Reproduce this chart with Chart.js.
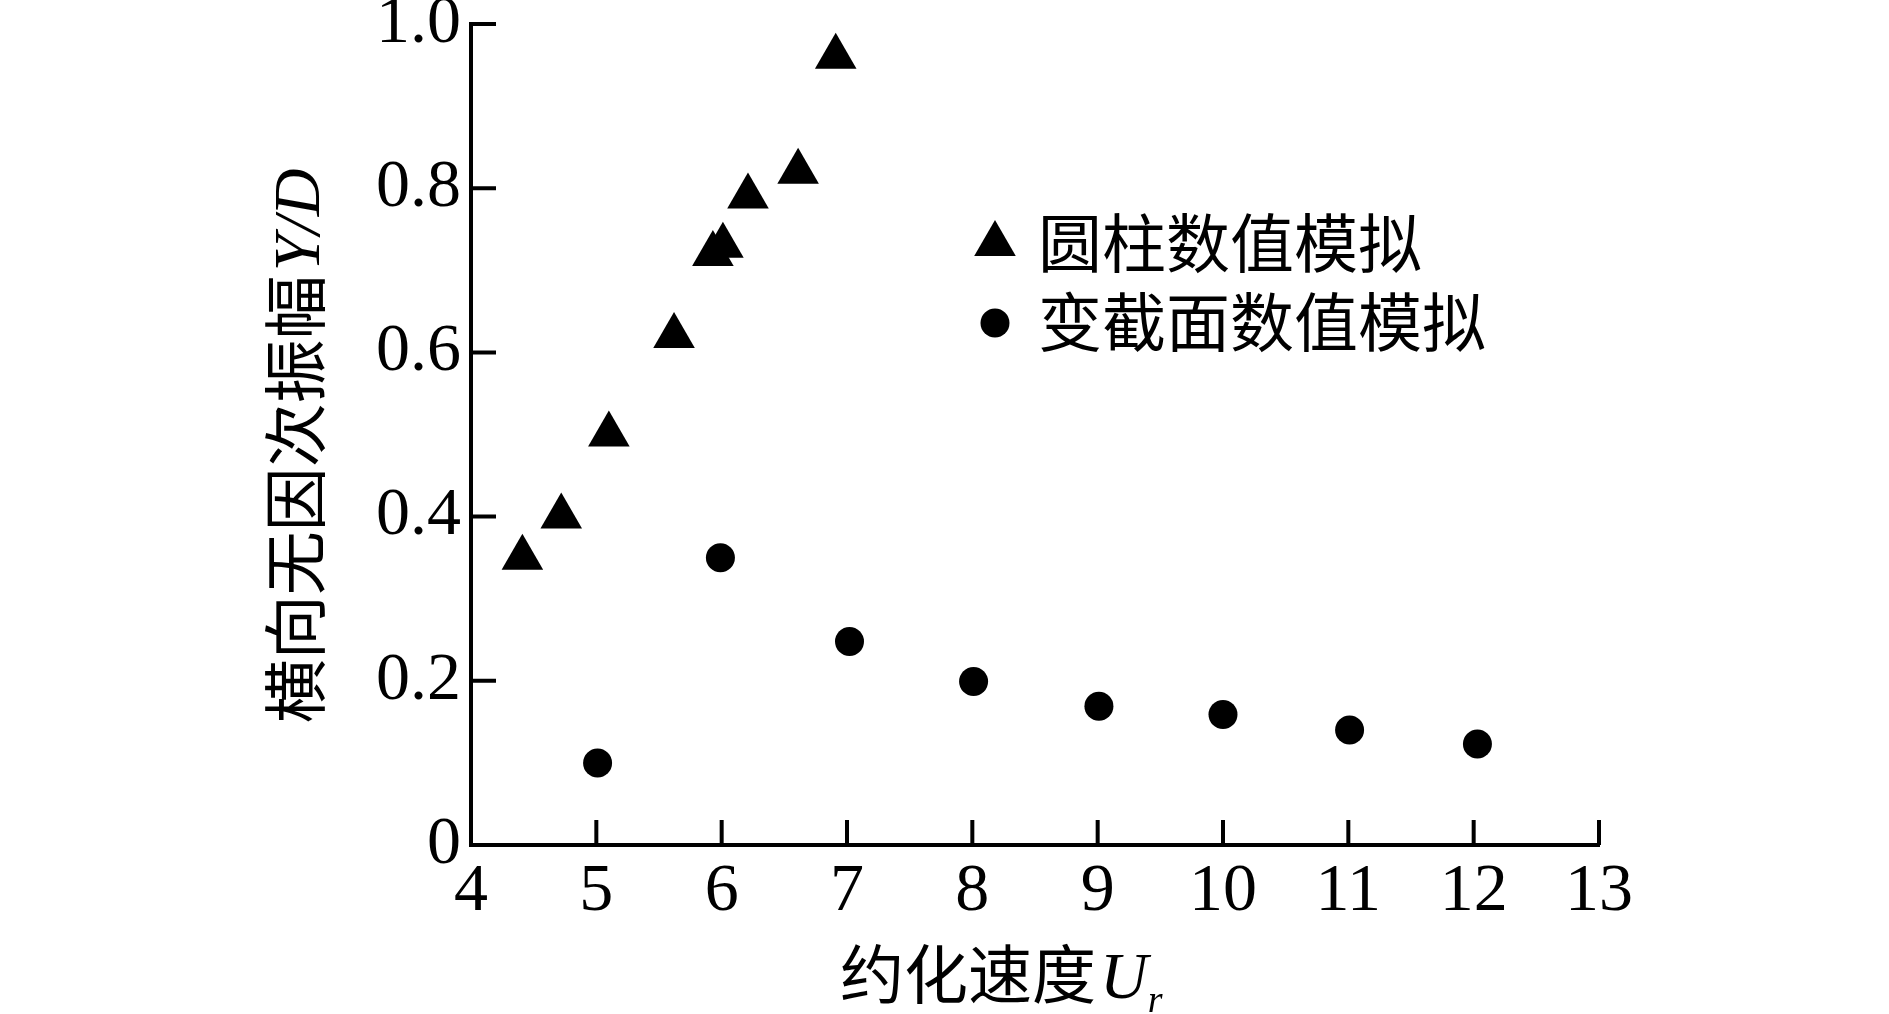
<!DOCTYPE html>
<html>
<head>
<meta charset="utf-8">
<script src="https://cdn.jsdelivr.net/npm/chart.js@4.4.1/dist/chart.umd.min.js"></script>
<style>
  html, body { margin: 0; padding: 0; background: #fff; }
  canvas { display: block; }
</style>
</head>
<body>
<canvas id="chart" width="1889" height="1014"></canvas>
<script>
// series
const cylinderLabel = '圆柱数值模拟';
const cylinderUr = [4.41, 4.72, 5.10, 5.62, 5.93, 6.01, 6.21, 6.61, 6.91];
const cylinderYD = [0.35, 0.40, 0.50, 0.62, 0.72, 0.73, 0.79, 0.82, 0.96];

const variableLabel = '变截面数值模拟';
const variableUr = [5.01, 5.99, 7.02, 8.01, 9.01, 10.0, 11.01, 12.03];
const variableYD = [0.10, 0.35, 0.248, 0.199, 0.169, 0.159, 0.14, 0.123];

const xTitleCJK = '约化速度';
const xTitleVar = 'U';
const xTitleSub = 'r';
const yTitleCJK = '横向无因次振幅';
const yTitleVar = 'Y/D';

const SERIF = '"Liberation Serif", "Times New Roman", serif';
const CJK = '"Noto Sans CJK SC", sans-serif';

const toPoints = (xs, ys) => xs.map((x, i) => ({ x, y: ys[i] }));

// inward tick marks on both axes
const innerTicks = {
    id: 'innerTicks',
    afterDraw(chart) {
        const { ctx, chartArea, scales } = chart;
        const len = 25;
        ctx.save();
        ctx.strokeStyle = '#000';
        ctx.lineWidth = 4;
        ctx.beginPath();
        scales.x.ticks.forEach(t => {
            const px = scales.x.getPixelForValue(t.value);
            if (Math.abs(px - chartArea.left) < 2) return;
            ctx.moveTo(px, chartArea.bottom);
            ctx.lineTo(px, chartArea.bottom - len);
        });
        scales.y.ticks.forEach(t => {
            const py = scales.y.getPixelForValue(t.value);
            if (Math.abs(py - chartArea.bottom) < 2) return;
            ctx.moveTo(chartArea.left, py);
            ctx.lineTo(chartArea.left + len, py);
        });
        ctx.stroke();
        ctx.restore();
    }
};

// axis titles with italic symbol + subscript
const axisTitles = {
    id: 'axisTitles',
    afterDraw(chart) {
        const { ctx } = chart;
        ctx.save();
        ctx.fillStyle = '#000';
        ctx.textBaseline = 'alphabetic';
        ctx.textAlign = 'left';

        // x title
        let x = 840;
        const base = 998;
        ctx.font = '64px ' + CJK;
        ctx.fillText(xTitleCJK, x, base);
        x += ctx.measureText(xTitleCJK).width + 4;
        ctx.font = 'italic 66px ' + SERIF;
        ctx.fillText(xTitleVar, x, base);
        x += ctx.measureText(xTitleVar).width;
        ctx.font = 'italic 38px ' + SERIF;
        ctx.fillText(xTitleSub, x, base + 14);

        // y title, rotated
        ctx.font = '64px ' + CJK;
        const w1 = ctx.measureText(yTitleCJK).width;
        ctx.font = 'italic 66px ' + SERIF;
        const w2 = ctx.measureText(yTitleVar).width;
        const total = w1 + 4 + w2;
        ctx.translate(295, 446);
        ctx.rotate(-Math.PI / 2);
        let lx = -total / 2;
        const lb = 24;
        ctx.font = '64px ' + CJK;
        ctx.fillText(yTitleCJK, lx, lb);
        lx += w1 + 4;
        ctx.font = 'italic 66px ' + SERIF;
        ctx.fillText(yTitleVar, lx, lb);
        ctx.restore();
    }
};

// legend placed inside the plot, as in the figure
const insideLegend = {
    id: 'insideLegend',
    afterDraw(chart) {
        const { ctx } = chart;
        const rows = [
            { ds: 0, my: 244, ty: 243 },
            { ds: 1, my: 323, ty: 322 }
        ];
        ctx.save();
        rows.forEach(r => {
            const ds = chart.data.datasets[r.ds];
            ctx.fillStyle = '#000';
            ctx.strokeStyle = '#000';
            ctx.lineWidth = 0;
            Chart.helpers.drawPoint(ctx, {
                pointStyle: ds.pointStyle,
                radius: ds.pointRadius,
                rotation: 0,
                borderWidth: 0
            }, 995, r.my);
            ctx.fillStyle = '#000';
            ctx.font = '64px ' + CJK;
            ctx.textBaseline = 'middle';
            ctx.textAlign = 'left';
            ctx.fillText(ds.label, 1038, r.ty);
        });
        ctx.restore();
    }
};

const tickFont = { family: SERIF, size: 68, lineHeight: 1.2 };

new Chart(document.getElementById('chart').getContext('2d'), {
    type: 'scatter',
    data: {
        datasets: [
            {
                label: cylinderLabel,
                data: toPoints(cylinderUr, cylinderYD),
                pointStyle: 'triangle',
                pointRadius: 24,
                backgroundColor: '#000',
                borderColor: '#000',
                borderWidth: 0,
                showLine: false
            },
            {
                label: variableLabel,
                data: toPoints(variableUr, variableYD),
                pointStyle: 'circle',
                pointRadius: 14.5,
                backgroundColor: '#000',
                borderColor: '#000',
                borderWidth: 0,
                showLine: false
            }
        ]
    },
    options: {
        responsive: false,
        animation: false,
        events: [],
        layout: { padding: { left: 0, right: 290, top: 20, bottom: 0 } },
        plugins: {
            legend: { display: false },
            tooltip: { enabled: false },
            title: { display: false }
        },
        scales: {
            x: {
                type: 'linear',
                min: 4,
                max: 13,
                ticks: { stepSize: 1, color: '#000', font: tickFont, padding: 6, maxRotation: 0 },
                grid: { display: true, drawOnChartArea: false, drawTicks: false },
                border: { display: true, color: '#000', width: 4 },
                afterFit: s => { s.height = 169; s.paddingLeft = 0; s.paddingRight = 0; }
            },
            y: {
                type: 'linear',
                min: 0,
                max: 1,
                ticks: {
                    stepSize: 0.2,
                    color: '#000',
                    font: tickFont,
                    padding: 10,
                    callback: v => (Math.abs(v) < 1e-9 ? '0' : v.toFixed(1))
                },
                grid: { display: true, drawOnChartArea: false, drawTicks: false },
                border: { display: true, color: '#000', width: 4 },
                afterFit: s => { s.width = 471; s.paddingTop = 0; s.paddingBottom = 0; }
            }
        }
    },
    plugins: [innerTicks, axisTitles, insideLegend]
});
</script>
</body>
</html>
